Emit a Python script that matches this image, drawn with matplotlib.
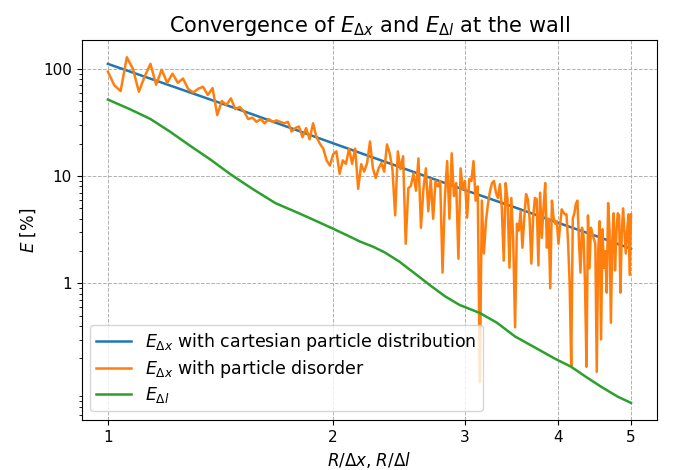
import numpy as np
import matplotlib
matplotlib.use("Agg")
from matplotlib import pyplot as plt
from matplotlib import ticker

# E_dx, cartesian particle distribution (smooth)
x_cart = [1.0, 1.5, 2.0, 2.5, 3.0, 3.5, 4.0, 4.5, 5.0]
e_cart = [111, 41.5, 20.2, 11.6, 7.4, 5.1, 3.66, 2.75, 2.1]

# E_dx, particle disorder (noisy), sampled every 0.02 from 1 to 5
x_dis = np.round(np.arange(1.0, 5.001, 0.02), 2)
e_dis = [
    94, 70, 62, 128, 100, 61, 85, 111, 71, 98,
    74, 90, 74, 81, 65, 60, 65, 68, 57, 66,
    37, 50, 46, 53, 42, 44, 40, 34, 35, 32,
    34, 31, 34, 32, 33, 32, 31, 32, 26, 28,
    29, 23, 28, 22, 31, 23, 20, 18, 14, 12.5,
    16, 17, 10.5, 14, 13, 18, 13, 18, 7.6, 12.9,
    11, 13.2, 21, 11.8, 9.6, 11.8, 13.2, 11, 19.7, 16.3,
    11.6, 4.3, 17, 11.6, 15.3, 2.34, 7.7, 8.1, 10.6, 7.3,
    14.6, 3.3, 7.6, 11.8, 4.7, 9.4, 4, 9, 8, 9,
    1.26, 6.25, 13.8, 4, 16.3, 6.5, 8.6, 1.7, 11.8, 7.6,
    9, 4.1, 9.4, 9, 13.8, 5.9, 8, 0.12, 5.9, 1.9,
    3.8, 5.5, 7.2, 8.6, 9, 7, 6.25, 8.4, 5, 1.63,
    8.6, 6, 1.4, 6.25, 2.5, 0.39, 3.6, 3.1, 4.7, 2.15,
    4, 6.8, 6.1, 4, 1.53, 4.1, 6.25, 6.1, 1.47, 7,
    2.66, 5, 8.6, 2.15, 4, 0.9, 5.9, 4.1, 3.6, 3.8,
    2.34, 3.5, 4.9, 4.6, 4.4, 4.4, 2.4, 1.0, 0.17, 4,
    4.5, 5.5, 5.9, 2.5, 1.26, 3.3, 2.8, 1.0, 0.167, 4.3,
    1.38, 3.3, 2.9, 2.6, 2.34, 0.15, 2, 3.8, 0.3, 3.2,
    1.4, 2.0, 0.82, 5.6, 3.1, 0.43, 2.5, 4.5, 1.32, 3.0,
    4.5, 4.3, 0.82, 3.0, 5.0, 3.0, 1.9, 3.0, 4.4, 1.2,
    4.4,
]

# E_dl
x_dl = [1.0, 1.07, 1.14, 1.21, 1.29, 1.37, 1.458, 1.56, 1.674, 1.807,
        1.9, 2.0, 2.1, 2.173, 2.26, 2.345, 2.45, 2.57, 2.7, 2.82,
        2.95, 3.14, 3.31, 3.5, 3.77, 3.95, 4.16, 4.35, 4.56, 4.8, 5.0]
e_dl = [51.6, 42, 34, 26, 19, 14.3, 10.4, 7.6, 5.6, 4.45,
        3.8, 3.23, 2.75, 2.45, 2.2, 1.94, 1.6, 1.24, 0.95, 0.76,
        0.63, 0.53, 0.43, 0.32, 0.24, 0.2, 0.167, 0.135, 0.109, 0.088, 0.077]

xticks = [1, 2, 3, 4, 5]
yticks = [1, 10, 100]

fig = plt.figure(figsize=(6.81, 4.70), dpi=100)
ax = fig.add_axes([0.12, 0.106, 0.845, 0.809])

ax.plot(x_cart, e_cart, color='tab:blue', lw=1.8,
        label=r'$E_{\Delta x}$ with cartesian particle distribution')
ax.plot(x_dis, e_dis, color='tab:orange', lw=1.8,
        label=r'$E_{\Delta x}$ with particle disorder')
ax.plot(x_dl, e_dl, color='tab:green', lw=1.8, label=r'$E_{\Delta l}$')

ax.set_xscale('log')
ax.set_yscale('log')
ax.set_xticks(xticks)
ax.set_xticklabels([str(t) for t in xticks])
ax.xaxis.set_minor_locator(ticker.NullLocator())
ax.set_yticks(yticks)
ax.set_yticklabels([str(t) for t in yticks])
ax.yaxis.set_minor_formatter(ticker.NullFormatter())
ax.tick_params(labelsize=11)

ax.grid(True, which='major', ls='--', color='#b0b0b0', lw=0.7)
ax.set_title(r'Convergence of $E_{\Delta x}$ and $E_{\Delta l}$ at the wall', fontsize=15)
ax.set_xlabel(r'$R/\Delta x$, $R/\Delta l$', fontsize=12)
ax.set_ylabel(r'$E$ [%]', fontsize=12)
ax.legend(loc='lower left', fontsize=12.5, borderpad=0.35, labelspacing=0.3)

plt.savefig('out.png', dpi=100)
